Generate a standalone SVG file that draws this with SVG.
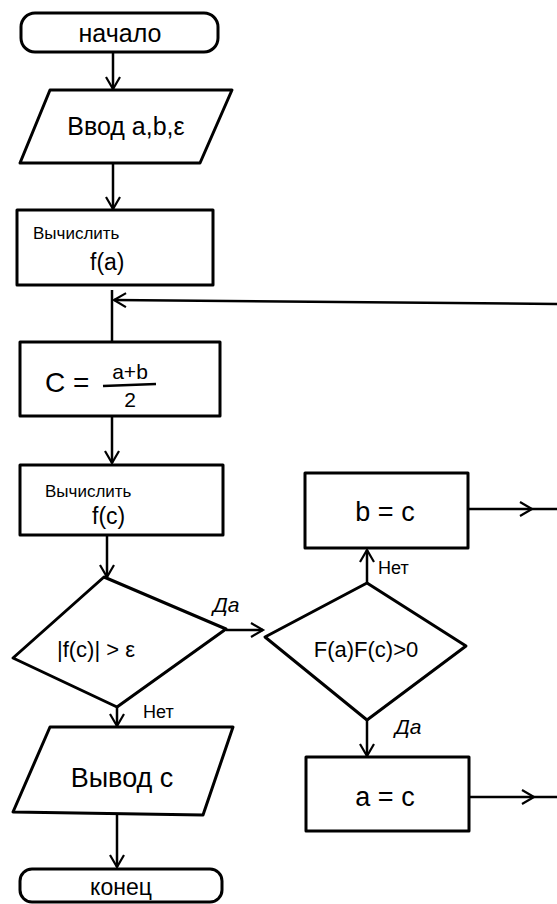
<svg xmlns="http://www.w3.org/2000/svg" width="557" height="904" viewBox="0 0 557 904">
<style>
.s{fill:#fff;stroke:#000;stroke-width:3;stroke-linejoin:round}
.c{fill:none;stroke:#000;stroke-width:2.5}
.t{font-family:"Liberation Sans",Arial,sans-serif;fill:#000}
.m{text-anchor:middle}
.i{font-style:italic}
</style>
<defs>
<marker id="ah" markerUnits="userSpaceOnUse" markerWidth="16" markerHeight="16" refX="13" refY="8" orient="auto">
<path d="M1,1 L13,8 L1,15" fill="none" stroke="#000" stroke-width="2.2"/>
</marker>
</defs>
<rect width="557" height="904" fill="#fff"/>
<g id="connectors">
<line class="c" x1="113" y1="52" x2="113" y2="89" marker-end="url(#ah)"/>
<line class="c" x1="113" y1="163" x2="113" y2="209" marker-end="url(#ah)"/>
<line class="c" x1="112" y1="290" x2="112" y2="342"/>
<line class="c" x1="557" y1="304" x2="114" y2="300" marker-end="url(#ah)"/>
<line class="c" x1="112" y1="416" x2="112" y2="463" marker-end="url(#ah)"/>
<line class="c" x1="107" y1="535" x2="107" y2="577" marker-end="url(#ah)"/>
<line class="c" x1="226" y1="630" x2="263" y2="630" marker-end="url(#ah)"/>
<line class="c" x1="367" y1="583" x2="367" y2="550" marker-end="url(#ah)"/>
<line class="c" x1="367" y1="720" x2="367" y2="756" marker-end="url(#ah)"/>
<path class="c" d="M468,509 L532,509 L557,509" marker-mid="url(#ah)"/>
<path class="c" d="M469,797 L534,797 L557,797" marker-mid="url(#ah)"/>
<line class="c" x1="117" y1="707" x2="117" y2="726" marker-end="url(#ah)"/>
<line class="c" x1="117" y1="815" x2="117" y2="867" marker-end="url(#ah)"/>
<text class="t i" x="213" y="612" font-size="21">Да</text>
<text class="t" x="378" y="574" font-size="18">Нет</text>
<text class="t i" x="395" y="734" font-size="21">Да</text>
<text class="t" x="143" y="718" font-size="18">Нет</text>
</g>
<g id="start">
<rect class="s" x="21" y="13" width="197" height="39" rx="14"/>
<text class="t m" x="120" y="42" font-size="25">начало</text>
</g>
<g id="input">
<polygon class="s" points="50,90 232,90 200,163 20,163"/>
<text class="t m" x="126" y="135" font-size="25">Ввод a,b,ε</text>
</g>
<g id="calc-fa">
<rect class="s" x="17" y="210" width="196" height="75"/>
<text class="t" x="33" y="239" font-size="17">Вычислить</text>
<text class="t" x="90" y="270" font-size="23">f(a)</text>
</g>
<g id="calc-c">
<rect class="s" x="20" y="342" width="200" height="74"/>
<text class="t" x="45" y="392" font-size="28">C =</text>
<text class="t m" x="130" y="379" font-size="21">a+b</text>
<line x1="103" y1="386" x2="156" y2="384" stroke="#000" stroke-width="2.5"/>
<text class="t m" x="130" y="407" font-size="21">2</text>
</g>
<g id="calc-fc">
<rect class="s" x="20" y="465" width="203" height="70"/>
<text class="t" x="45" y="497" font-size="17">Вычислить</text>
<text class="t" x="92" y="524" font-size="23">f(c)</text>
</g>
<g id="cond1">
<polygon class="s" points="104,577 226,629 117,707 13,658"/>
<text class="t m" x="96" y="657" font-size="22">|f(c)| &gt; ε</text>
</g>
<g id="cond2">
<polygon class="s" points="367,583 466,646 367,720 265,637"/>
<text class="t m" x="366" y="657" font-size="22">F(a)F(c)&gt;0</text>
</g>
<g id="b-eq-c">
<rect class="s" x="305" y="473" width="163" height="75"/>
<text class="t m" x="385" y="521" font-size="27">b = c</text>
</g>
<g id="a-eq-c">
<rect class="s" x="306" y="757" width="163" height="74"/>
<text class="t m" x="385" y="806" font-size="27">a = c</text>
</g>
<g id="output">
<polygon class="s" points="50,727 233,727 203,815 13,812"/>
<text class="t m" x="122" y="787" font-size="27">Вывод c</text>
</g>
<g id="end">
<rect class="s" x="20" y="869" width="202" height="33" rx="12"/>
<text class="t m" x="121" y="895" font-size="23">конец</text>
</g>
</svg>
